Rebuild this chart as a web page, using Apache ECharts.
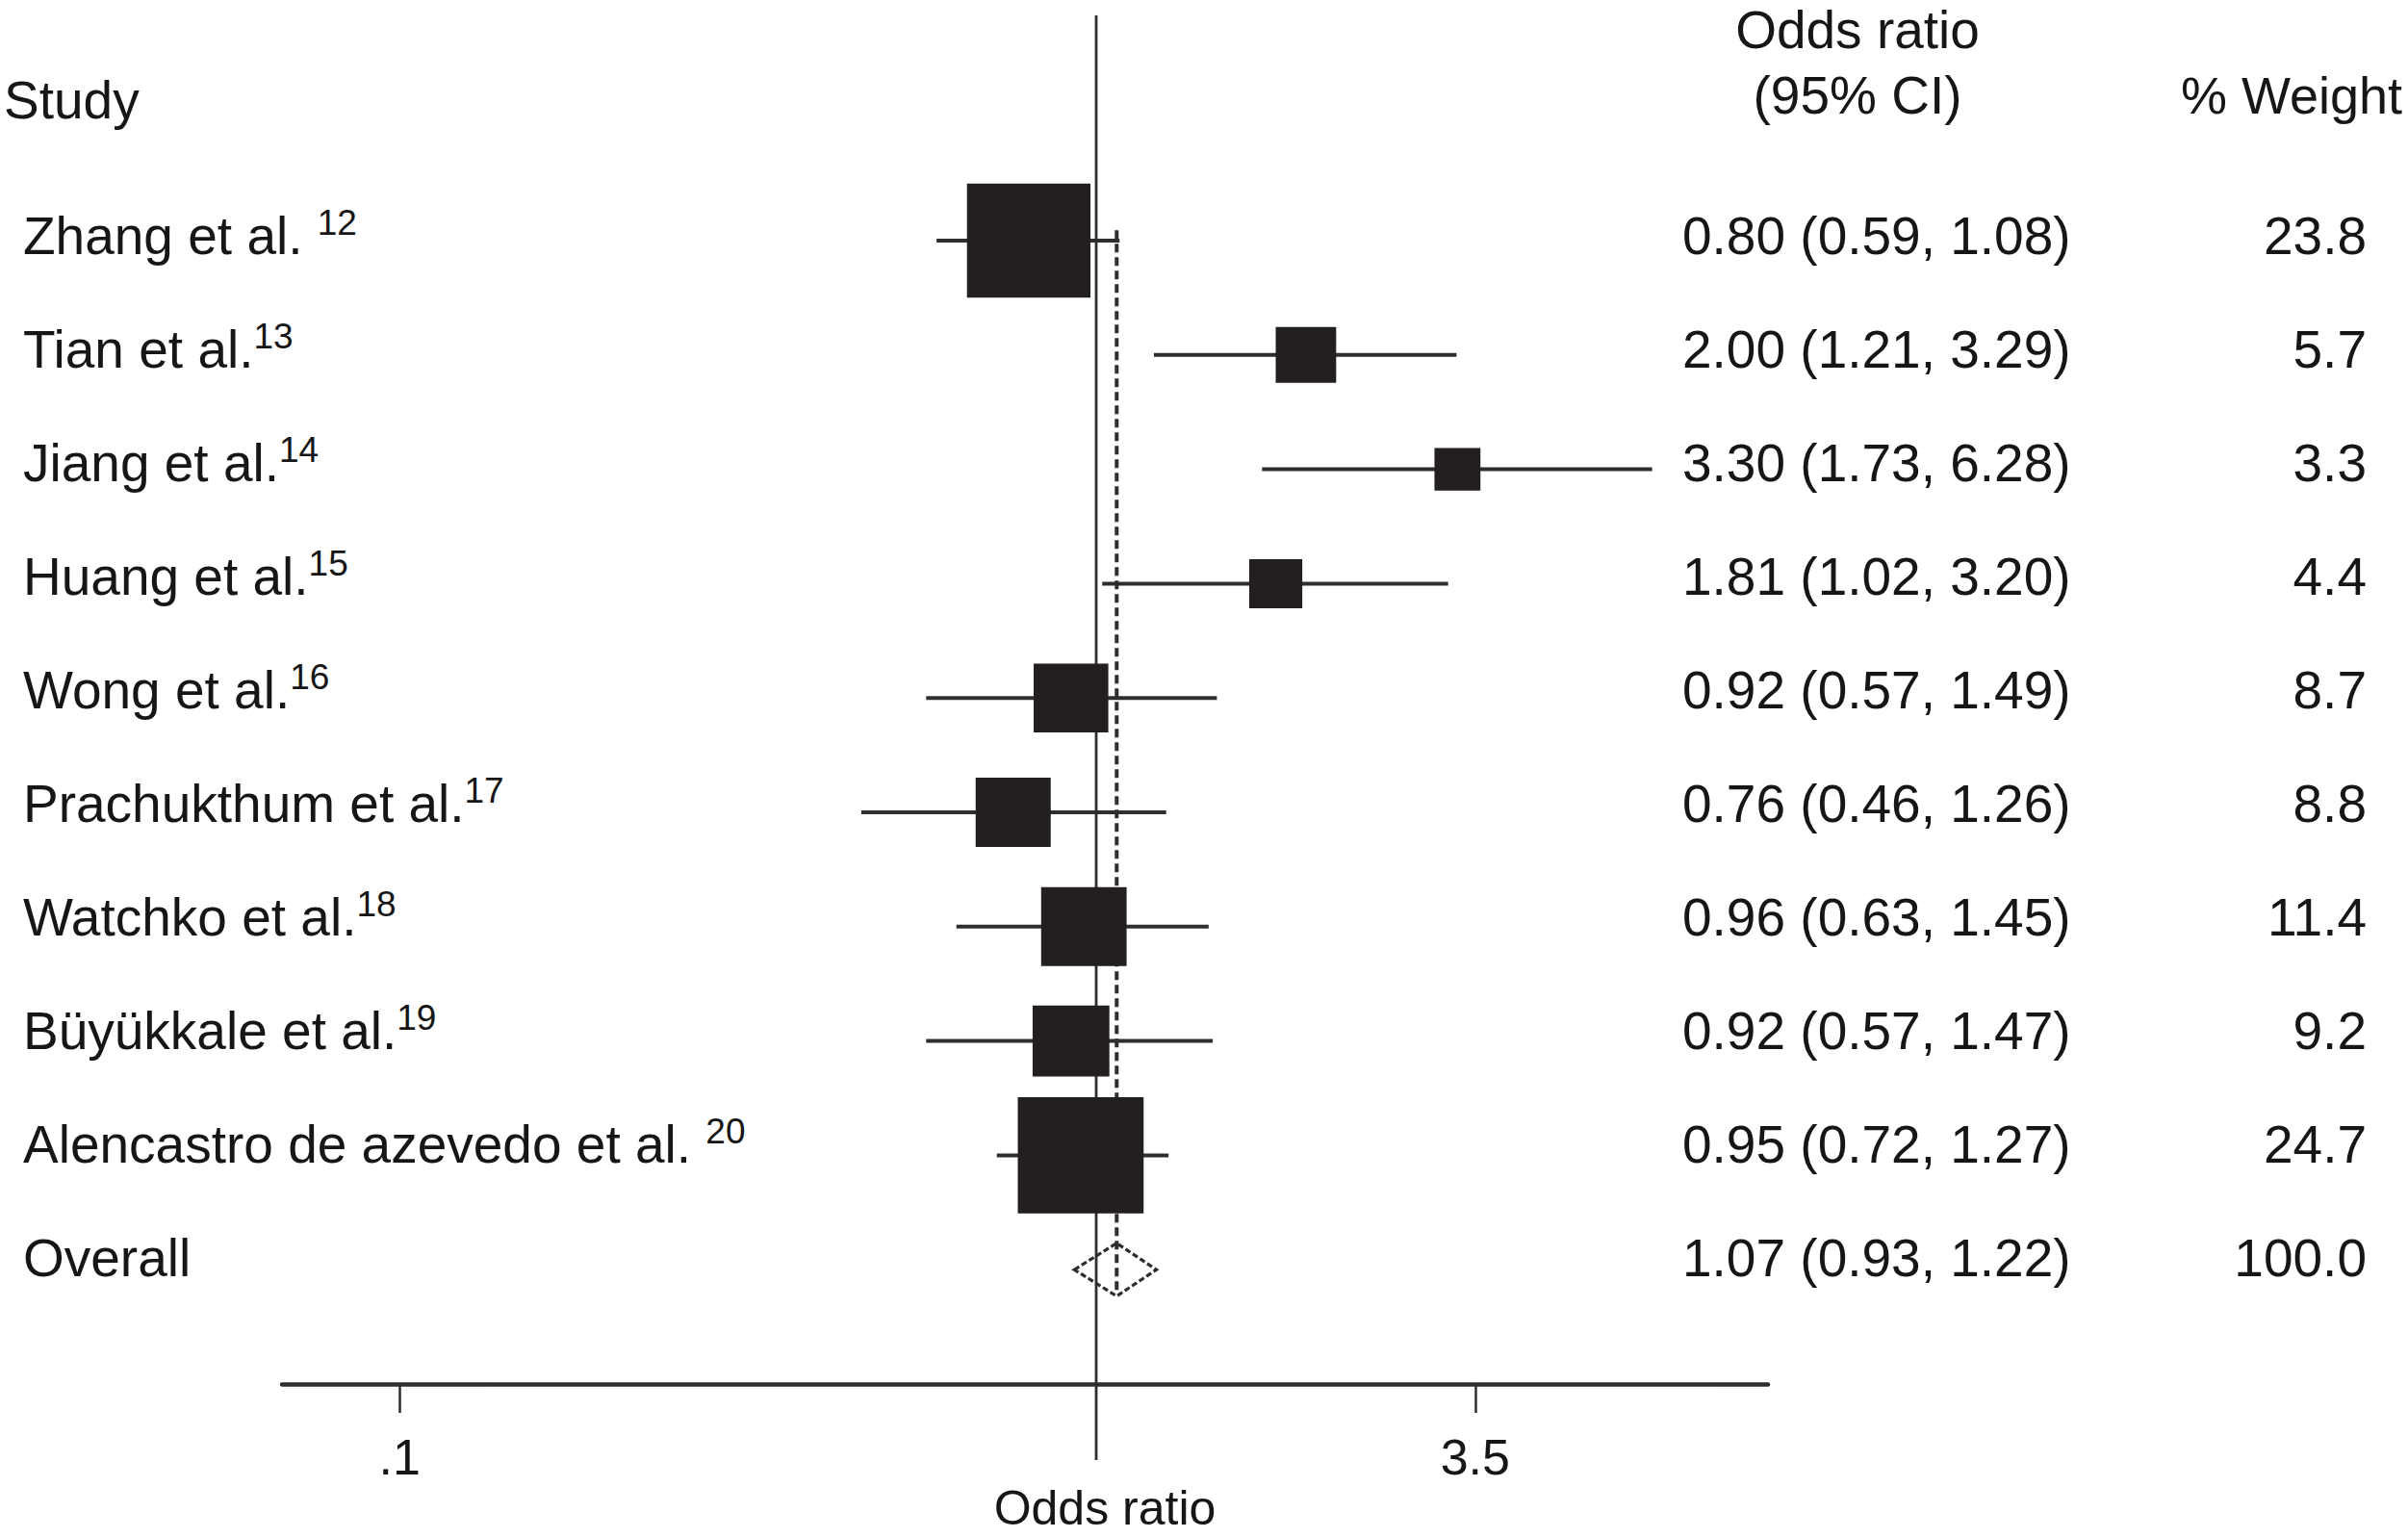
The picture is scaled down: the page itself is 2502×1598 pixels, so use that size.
<!DOCTYPE html>
<html>
<head>
<meta charset="utf-8">
<script src="https://cdn.jsdelivr.net/npm/echarts@6.0.0/dist/echarts.min.js"></script>
<style>
html,body{margin:0;padding:0;background:#ffffff;}
#chart{width:2502px;height:1598px;}
</style>
</head>
<body>
<div id="chart"></div>
<script>
// ---- data ----
const studyNames = ['Zhang et al. ', 'Tian et al.', 'Jiang et al.', 'Huang et al.', 'Wong et al.',
  'Prachukthum et al.', 'Watchko et al.', 'Büyükkale et al.', 'Alencastro de azevedo et al. '];
const studyRefs = ['12', '13', '14', '15', '16', '17', '18', '19', '20'];
const oddsRatio = [0.80, 2.00, 3.30, 1.81, 0.92, 0.76, 0.96, 0.92, 0.95];
const ciLow = [0.59, 1.21, 1.73, 1.02, 0.57, 0.46, 0.63, 0.57, 0.72];
const ciHigh = [1.08, 3.29, 6.28, 3.20, 1.49, 1.26, 1.45, 1.47, 1.27];
const weights = [23.8, 5.7, 3.3, 4.4, 8.7, 8.8, 11.4, 9.2, 24.7];
const overallName = 'Overall';
const overallOR = 1.07;
const overallLow = 0.93;
const overallHigh = 1.22;
const overallWeight = 100.0;
const tickValues = [0.1, 3.5];
const tickLabels = ['.1', '3.5'];
const headers = ['Study', 'Odds ratio', '(95% CI)', '% Weight'];
const xAxisTitle = 'Odds ratio';

// ---- styles ----
const FONT = '"Liberation Sans", Arial, Helvetica, sans-serif';
const TXT = '#161616';
const LINE = '#2e2e2e';
const BOX = '#231f20';

const nRows = studyNames.length;
const overallRow = nRows;

// table rows (all text rows, including overall)
const rowNames = studyNames.concat([overallName]);
const rowRefs = studyRefs.concat(['']);
const rowOR = oddsRatio.concat([overallOR]);
const rowLo = ciLow.concat([overallLow]);
const rowHi = ciHigh.concat([overallHigh]);
const rowW = weights.concat([overallWeight]);

const chart = echarts.init(document.getElementById('chart'), null, {renderer: 'svg'});

function tickLabel(v) {
  let best = 0, bd = Infinity;
  tickValues.forEach((t, k) => { const d = Math.abs(Math.log10(t) - Math.log10(v)); if (d < bd) { bd = d; best = k; } });
  return tickLabels[best];
}

const option = {
  backgroundColor: '#ffffff',
  animation: false,
  grid: {left: 293, right: 665, top: 16, bottom: 160, containLabel: false, outerBoundsMode: 'none'},
  xAxis: {
    type: 'log', logBase: 10, min: 0.0678, max: 9.21, position: 'bottom',
    axisLine: {show: true, onZero: false, lineStyle: {color: LINE, width: 4.5}},
    axisTick: {show: true, customValues: tickValues, length: 30, lineStyle: {color: LINE, width: 2.5}},
    axisLabel: {show: true, customValues: tickValues, formatter: tickLabel, fontSize: 52,
      fontFamily: FONT, color: TXT, margin: 50},
    splitLine: {show: false}, minorTick: {show: false}, minorSplitLine: {show: false}
  },
  yAxis: {type: 'value', inverse: true, min: -1.97, max: 10, show: false},
  graphic: [
    {type: 'text', x: 4, y: 104, style: {text: headers[0], fontSize: 55, fontFamily: FONT, fill: TXT, align: 'left', verticalAlign: 'middle'}},
    {type: 'text', x: 1930, y: 31, style: {text: headers[1], fontSize: 55, fontFamily: FONT, fill: TXT, align: 'center', verticalAlign: 'middle'}},
    {type: 'text', x: 1930, y: 99, style: {text: headers[2], fontSize: 55, fontFamily: FONT, fill: TXT, align: 'center', verticalAlign: 'middle'}},
    {type: 'text', x: 2496, y: 99, style: {text: headers[3], fontSize: 54, fontFamily: FONT, fill: TXT, align: 'right', verticalAlign: 'middle'}},
    {type: 'text', x: 1148, y: 1567, style: {text: xAxisTitle, fontSize: 50, fontFamily: FONT, fill: TXT, align: 'center', verticalAlign: 'middle'}}
  ],
  series: [
    // reference lines: null line at 1 (solid) and overall estimate (dashed)
    {
      type: 'custom', name: 'reference', z: 2, clip: false,
      data: [[1, -1.97, 10.665, 0], [overallOR, -0.09, 9.22, 1]],
      encode: {x: 0, y: [1, 2]},
      renderItem: function (params, api) {
        const a = api.coord([api.value(0), api.value(1)]);
        const b = api.coord([api.value(0), api.value(2)]);
        const dashed = api.value(3) === 1;
        return {type: 'line', shape: {x1: a[0], y1: a[1], x2: b[0], y2: b[1]},
          style: {stroke: LINE, lineWidth: dashed ? 4 : 2.8, lineDash: dashed ? [9, 5] : null}};
      }
    },
    // overall diamond
    {
      type: 'custom', name: 'overall', z: 3, clip: false,
      data: [[overallRow, overallOR, overallLow, overallHigh]],
      encode: {y: 0, x: [1, 2, 3]},
      renderItem: function (params, api) {
        const i = api.value(0);
        const l = api.coord([api.value(2), i]);
        const h = api.coord([api.value(3), i]);
        const c = api.coord([api.value(1), i]);
        const hh = 27.5;
        return {type: 'polygon', shape: {points: [[l[0], l[1]], [c[0], c[1] - hh], [h[0], h[1]], [c[0], c[1] + hh]]},
          style: {fill: 'none', stroke: LINE, lineWidth: 3.2, lineDash: [6, 3]}};
      }
    },
    // study CI lines and weighted boxes
    {
      type: 'custom', name: 'studies', z: 4, clip: false,
      data: oddsRatio.map((v, i) => [i, v, ciLow[i], ciHigh[i], weights[i]]),
      encode: {y: 0, x: [1, 2, 3]},
      renderItem: function (params, api) {
        const i = api.value(0);
        const c = api.coord([api.value(1), i]);
        const l = api.coord([api.value(2), i]);
        const h = api.coord([api.value(3), i]);
        const s = Math.sqrt(api.value(4));
        const bw = 26.3 * s, bh = 24.3 * s;
        return {type: 'group', children: [
          {type: 'line', shape: {x1: l[0], y1: l[1], x2: h[0], y2: h[1]}, style: {stroke: LINE, lineWidth: 4}},
          {type: 'rect', shape: {x: c[0] - bw / 2, y: c[1] - bh / 2, width: bw, height: bh}, style: {fill: BOX}}
        ]};
      }
    },
    // table text: study names, OR (95% CI), % weight
    {
      type: 'custom', name: 'table', z: 5, clip: false, silent: true,
      data: rowNames.map((n, i) => [rowOR[i], i]),
      encode: {x: 0, y: 1},
      renderItem: function (params, api) {
        const k = params.dataIndex;
        const y = api.coord([1, api.value(1)])[1] - 5 - 0.8 * k;
        const nameText = rowRefs[k] ? '{n|' + rowNames[k] + '}{s|' + rowRefs[k] + '}' : '{n|' + rowNames[k] + '}';
        const orText = rowOR[k].toFixed(2) + ' (' + rowLo[k].toFixed(2) + ', ' + rowHi[k].toFixed(2) + ')';
        return {type: 'group', children: [
          {type: 'text', x: 24, y: y, style: {text: nameText, align: 'left', verticalAlign: 'middle',
            rich: {
              n: {fontSize: 55, fontFamily: FONT, fill: TXT, lineHeight: 64, verticalAlign: 'middle'},
              s: {fontSize: 37, fontFamily: FONT, fill: TXT, lineHeight: 30, verticalAlign: 'top'}
            }}},
          {type: 'text', x: 1748, y: y, style: {text: orText, fontSize: 55, fontFamily: FONT, fill: TXT, align: 'left', verticalAlign: 'middle'}},
          {type: 'text', x: 2459, y: y, style: {text: rowW[k].toFixed(1), fontSize: 55, fontFamily: FONT, fill: TXT, align: 'right', verticalAlign: 'middle'}}
        ]};
      }
    }
  ]
};
chart.setOption(option);
</script>
</body>
</html>
